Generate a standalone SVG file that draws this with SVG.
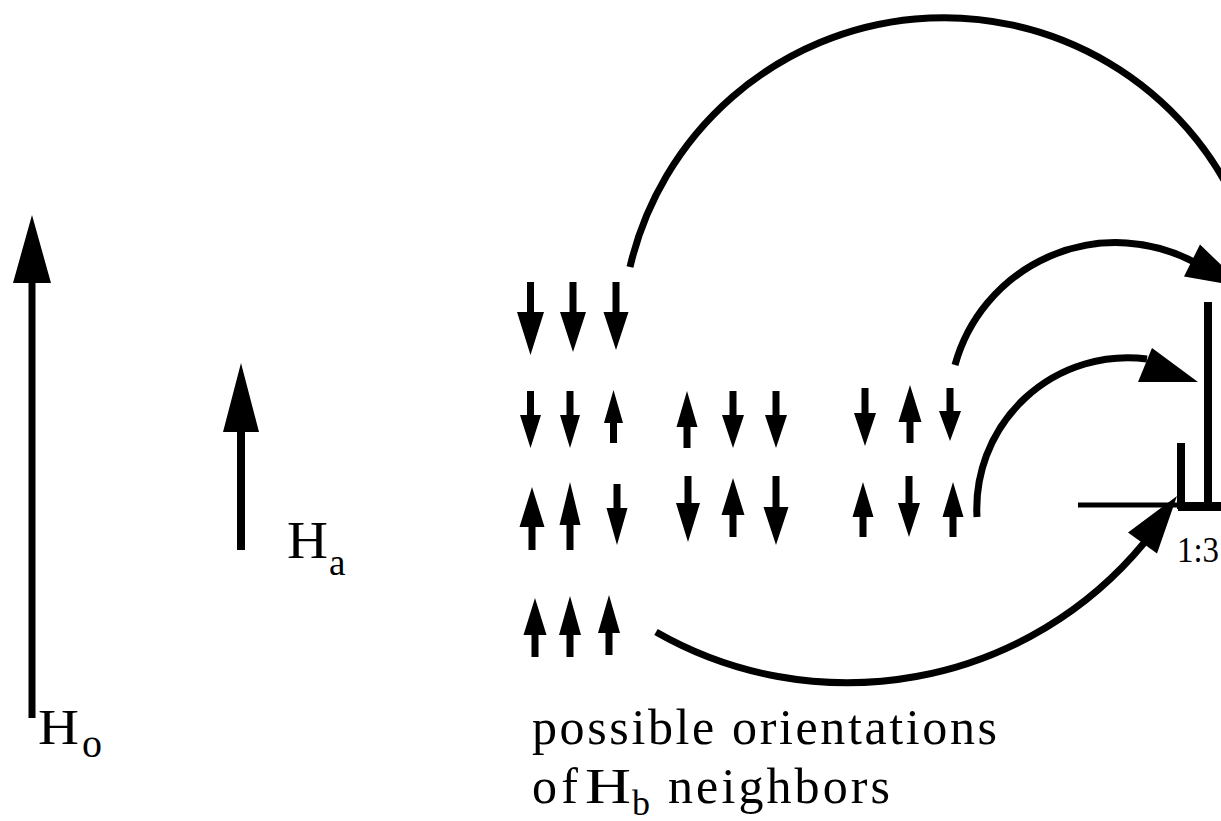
<svg xmlns="http://www.w3.org/2000/svg" width="1221" height="821" viewBox="0 0 1221 821">
  <style>
    .spin { fill: #000; }
    .arc { fill: none; stroke: #000; stroke-width: 7; }
    .head { fill: #000; }
    .lbl { font-family: "Liberation Serif", "Times New Roman", serif; fill: #000; }
    .bar { fill: #000; }
  </style>
  <rect width="1221" height="821" fill="#fff"/>

  <!-- applied field H0 -->
  <g id="field-h0">
    <path class="spin" d="M28.5,718 V283 H13 L32,215 L51,283 H35.5 V718 Z"/>
    <text class="lbl" x="38" y="744" font-size="50" textLength="41" lengthAdjust="spacingAndGlyphs">H</text>
    <text class="lbl" x="82" y="757" font-size="40">o</text>
  </g>

  <!-- proton Ha -->
  <g id="proton-ha">
    <path class="spin" d="M237,550 V432 H223 L241,363 L259,432 H245 V550 Z"/>
    <text class="lbl" x="287" y="558" font-size="52" textLength="41" lengthAdjust="spacingAndGlyphs">H</text>
    <text class="lbl" x="329" y="575" font-size="37">a</text>
  </g>

  <!-- neighbour spin states: all down -->
  <g id="state-ddd">
    <path class="spin" d="M527,282 H534 V312 H544 L530.5,355 L517,312 H527 Z"/>
    <path class="spin" d="M569.5,282 H576.5 V312 H586 L573,352 L560,312 H569.5 Z"/>
    <path class="spin" d="M612.5,282 H619.5 V312 H628.5 L616,350 L603.5,312 H612.5 Z"/>
  </g>

  <!-- one up, two down -->
  <g id="state-udd">
    <path class="spin" d="M527,391 H534 V415 H541 L530.5,448 L520,415 H527 Z"/>
    <path class="spin" d="M566.5,391 H573.5 V415 H580 L570,448 L560,415 H566.5 Z"/>
    <path class="spin" d="M610,443 H617 V423 H623 L613.5,390 L604,423 H610 Z"/>

    <path class="spin" d="M683.5,448 H690.5 V427 H697.5 L687,391 L676.5,427 H683.5 Z"/>
    <path class="spin" d="M729.5,391 H736.5 V415 H744 L733,448 L722,415 H729.5 Z"/>
    <path class="spin" d="M772.5,391 H779.5 V415 H787 L776,448 L765,415 H772.5 Z"/>

    <path class="spin" d="M861.5,388 H868.5 V413 H876 L865,446 L854,413 H861.5 Z"/>
    <path class="spin" d="M906.5,443 H913.5 V422 H921.5 L910,385 L898.5,422 H906.5 Z"/>
    <path class="spin" d="M946.5,388 H953.5 V411 H961 L950,441 L939,411 H946.5 Z"/>
  </g>

  <!-- two up, one down -->
  <g id="state-uud">
    <path class="spin" d="M528.5,550 H535.5 V527 H544.5 L532,487 L519.5,527 H528.5 Z"/>
    <path class="spin" d="M566.5,550 H573.5 V525 H580.5 L570,482 L559.5,525 H566.5 Z"/>
    <path class="spin" d="M613.5,484 H620.5 V508 H627.5 L617,545 L606.5,508 H613.5 Z"/>

    <path class="spin" d="M684.5,476 H691.5 V503 H700 L688,542 L676,503 H684.5 Z"/>
    <path class="spin" d="M729.5,537 H736.5 V515 H744.5 L733,478 L721.5,515 H729.5 Z"/>
    <path class="spin" d="M772.5,476 H779.5 V507 H788.5 L776,545 L763.5,507 H772.5 Z"/>

    <path class="spin" d="M859.5,537 H866.5 V517 H873.5 L863,482 L852.5,517 H859.5 Z"/>
    <path class="spin" d="M905.5,476 H912.5 V503 H920 L909,537 L898,503 H905.5 Z"/>
    <path class="spin" d="M949.5,537 H956.5 V517 H963.5 L953,482 L942.5,517 H949.5 Z"/>
  </g>

  <!-- all up -->
  <g id="state-uuu">
    <path class="spin" d="M531.5,657 H538.5 V635 H546.5 L535,598 L523.5,635 H531.5 Z"/>
    <path class="spin" d="M566.5,657 H573.5 V635 H581 L570,596 L559,635 H566.5 Z"/>
    <path class="spin" d="M605.5,655 H612.5 V633 H620 L609,595 L598,633 H605.5 Z"/>
  </g>

  <!-- resulting multiplet -->
  <g id="multiplet">
    <line x1="1078" y1="505" x2="1180" y2="505" stroke="#000" stroke-width="5"/>
    <rect class="bar" x="1178" y="502" width="43" height="9"/>
    <rect class="bar" x="1177" y="443" width="8" height="66"/>
    <rect class="bar" x="1204" y="302" width="8" height="207"/>
    <text class="lbl" x="1177" y="562" font-size="36" fill="#222" textLength="42" lengthAdjust="spacingAndGlyphs">1:3</text>
  </g>

  <!-- connectors from spin states to lines -->
  <g id="connectors">
    <path class="arc" d="M630,267 A322.5,322.5 0 0 1 1240,212"/>
    <path class="arc" d="M955,365 A167,167 0 0 1 1194,262"/>
    <polygon class="head" points="1184,276.5 1200,244.5 1244,287"/>
    <path class="arc" d="M977,517 A151,151 0 0 1 1147,359"/>
    <polygon class="head" points="1152,348 1138,382 1198,382"/>
    <path class="arc" d="M656,632 A385,385 0 0 0 1144,543"/>
    <polygon class="head" points="1128,532.5 1157,553.5 1177,496"/>
  </g>

  <!-- caption -->
  <g id="caption">
    <text class="lbl" x="532" y="744" font-size="50" textLength="465" lengthAdjust="spacing">possible orientations</text>
    <text class="lbl" x="532" y="803" font-size="50" textLength="46" lengthAdjust="spacing">of</text>
    <text class="lbl" x="585" y="803" font-size="50" textLength="46" lengthAdjust="spacingAndGlyphs">H</text>
    <text class="lbl" x="632" y="815" font-size="36">b</text>
    <text class="lbl" x="668" y="803" font-size="50" textLength="222" lengthAdjust="spacing">neighbors</text>
  </g>
</svg>
